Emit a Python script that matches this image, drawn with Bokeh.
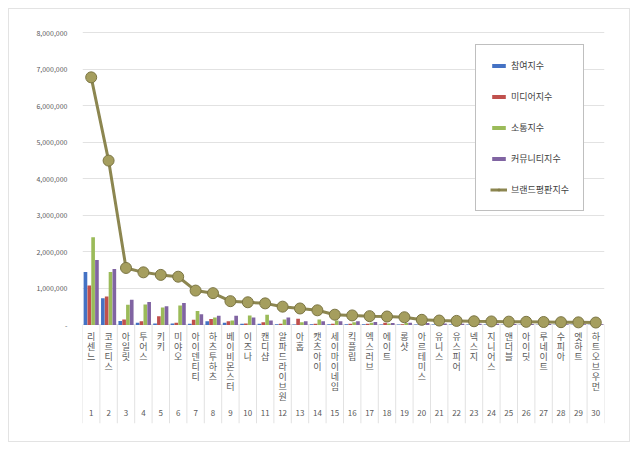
from bokeh.plotting import figure
from bokeh.models import (ColumnDataSource, FixedTicker, Range1d, Legend, LegendItem)
from bokeh.core.properties import value
from bokeh.transform import dodge
from bokeh.embed import file_html
from bokeh.resources import INLINE

names = ["리센느", "코르티스", "아일릿", "투어스", "키키", "미야오", "아이덴티티", "하츠투하츠",
         "베이비몬스터", "이즈나", "캔디샵", "알파드라이브원", "아홉", "캣츠아이", "세이마이네임",
         "킥플립", "엑스러브", "에이트", "롱샷", "아르테미스", "유니스", "유스피어", "넥스지",
         "지니어스", "앤더블", "아이딧", "루네이트", "수피아", "엣하트", "하트오브우먼"]
ranks = list(range(1, 31))

participation = [1450000, 730000, 110000, 60000, 40000, 40000, 30000, 100000, 60000, 30000,
                 30000, 20000, 10000, 20000, 20000, 20000, 15000, 10000, 10000, 10000,
                 10000, 10000, 10000, 10000, 5000, 5000, 5000, 5000, 5000, 5000]
media = [1080000, 780000, 150000, 100000, 240000, 60000, 140000, 160000, 100000, 40000,
         70000, 30000, 170000, 30000, 30000, 30000, 30000, 60000, 20000, 20000,
         20000, 15000, 15000, 15000, 10000, 10000, 10000, 10000, 10000, 10000]
communication = [2400000, 1450000, 550000, 560000, 480000, 530000, 380000, 200000, 120000, 260000,
                 280000, 150000, 70000, 150000, 120000, 70000, 60000, 40000, 50000, 30000,
                 30000, 30000, 25000, 20000, 20000, 20000, 20000, 20000, 15000, 15000]
community = [1780000, 1530000, 690000, 630000, 510000, 600000, 290000, 250000, 250000, 200000,
             120000, 200000, 100000, 100000, 100000, 100000, 80000, 50000, 60000, 50000,
             40000, 35000, 30000, 30000, 25000, 25000, 25000, 20000, 20000, 20000]
brand = [6780000, 4500000, 1560000, 1440000, 1370000, 1320000, 940000, 870000, 650000, 620000,
         590000, 500000, 450000, 400000, 280000, 260000, 240000, 230000, 210000, 140000,
         120000, 110000, 100000, 95000, 90000, 85000, 80000, 75000, 70000, 65000]

series_labels = ["참여지수", "미디어지수", "소통지수", "커뮤니티지수", "브랜드평판지수"]
y_ticks = [0, 1000000, 2000000, 3000000, 4000000, 5000000, 6000000, 7000000, 8000000]

FONT = "Noto Sans CJK KR"
colors = ["#4472C4", "#C0504D", "#9BBB59", "#8064A2"]

p = figure(width=622, height=434, output_backend="svg", toolbar_location=None,
           x_range=Range1d(0.5, 30.5), y_range=Range1d(-2.7e6, 8.2e6),
           min_border_left=73, min_border_right=27, min_border_top=16, min_border_bottom=20)
p.styles = {"border": "1px solid #e3e3e3", "margin": "8px 0 0 8px"}
p.outline_line_color = None
p.xaxis.visible = False
p.xgrid.visible = False

p.yaxis.ticker = FixedTicker(ticks=y_ticks)
p.yaxis.major_label_overrides = {t: ("-" if t == 0 else f"{t:,}") for t in y_ticks}
p.yaxis.axis_line_color = None
p.yaxis.major_tick_line_color = None
p.yaxis.minor_tick_line_color = None
p.yaxis.major_label_standoff = 9
p.yaxis.major_label_text_font_size = "7px"
p.yaxis.major_label_text_color = "#595959"
p.yaxis.major_label_text_font = FONT
p.ygrid.ticker = FixedTicker(ticks=y_ticks)
p.ygrid.grid_line_color = "#e2e2e2"

# category separators in label area
bounds = [i + 0.5 for i in range(0, 31)]
p.segment(x0=bounds, y0=[0] * len(bounds), x1=bounds, y1=[p.y_range.start] * len(bounds),
          line_color="#e2e2e2", line_width=1)

src = ColumnDataSource(dict(x=ranks, a=participation, b=media, c=communication,
                            d=community, e=brand))
offsets = [-0.33, -0.11, 0.11, 0.33]
bar_r = []
for key, col, off in zip(["a", "b", "c", "d"], colors, offsets):
    r = p.vbar(x=dodge("x", off), top=key, width=0.21, source=src,
               fill_color=col, line_color=None)
    bar_r.append(r)

line_r = p.line(x="x", y="e", source=src, line_color="#8c8650", line_width=3)
dot_r = p.scatter(x="x", y="e", source=src, size=11, fill_color="#a59e5e",
                  line_color="#7b7543", line_width=1)

# stacked vertical category labels
lx, ly, lt, lo = [], [], [], []
for r_, nm in zip(ranks, names):
    for i, ch in enumerate(nm):
        lx.append(r_)
        ly.append(0)
        lt.append(ch)
        lo.append(12 + 10 * i)
p.text(x=lx, y=ly, text=lt, y_offset=lo, text_align="center", text_baseline="middle",
       text_font=value(FONT), text_font_size="9px", text_color="#595959")
p.text(x=ranks, y=[0] * len(ranks), text=[str(r_) for r_ in ranks], y_offset=88,
       text_align="center", text_baseline="middle",
       text_font=value(FONT), text_font_size="8px", text_color="#595959")

items = [LegendItem(label=series_labels[i], renderers=[bar_r[i]]) for i in range(4)]
items.append(LegendItem(label=series_labels[4], renderers=[line_r, dot_r]))
legend = Legend(items=items, location=(393, 212), orientation="vertical")
legend.border_line_color = "#7f7f7f"
legend.border_line_width = 1
legend.background_fill_color = "white"
legend.background_fill_alpha = 1
legend.label_text_font = FONT
legend.label_text_font_size = "9px"
legend.label_text_color = "#404040"
legend.glyph_width = 17
legend.glyph_height = 5
legend.label_height = 10
legend.label_standoff = 4
legend.spacing = 18
legend.padding = 14
legend.margin = 0
p.add_layout(legend)

open("out.html", "w").write(file_html(p, INLINE))
